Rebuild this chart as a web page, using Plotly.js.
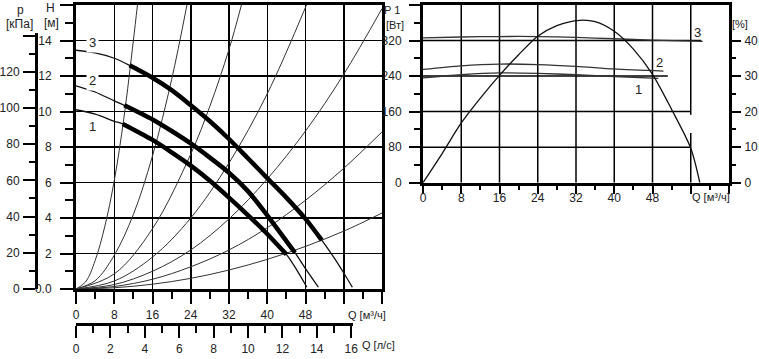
<!DOCTYPE html>
<html><head><meta charset="utf-8">
<script src="https://cdn.plot.ly/plotly-3.0.1.min.js"></script>
<style>html,body{margin:0;padding:0;background:#fff}#chart{width:759px;height:359px}</style>
</head><body><div id="chart"></div>
<script>
// ---- Left panel: pump curves H(Q) for speeds 1..3 ----
const curve1Q = [0,4,8,9.8,16,20,24,28,32,36,40,44,46,48.3];
const curve1H = [10.1,9.85,9.45,9.3,8.4,7.7,6.95,6.1,5.15,4.15,3.1,1.95,1.15,0.1];
const curve2Q = [0,4,8,10.1,16,20,24,28,32,36,40,44,45.8,48,50.7];
const curve2H = [11.45,11.1,10.6,10.35,9.55,8.9,8.2,7.4,6.55,5.5,4.15,2.7,2.05,1.15,0.1];
const curve3Q = [0,4,8,11.2,16,20,24,28,32,36,40,44,48,51.4,54,56,57.8];
const curve3H = [13.45,13.3,13.0,12.6,11.9,11.2,10.35,9.45,8.45,7.35,6.25,5.15,3.95,2.75,1.75,0.9,0.1];
const thick1 = [9.8,44];
const thick2 = [10.1,45.8];
const thick3 = [11.2,51.4];

// ---- Left panel: system curves (read points) ----
const sysA_Q = [0,2,4,6,8,10,12,12.85];
const sysA_H = [0,0.4,1.6,3.5,6.1,9.6,14.0,16];
const sysB_Q = [0,4,8,12,16,20,23.2];
const sysB_H = [0,0.47,1.9,4.2,7.5,11.8,16];
const sysC_Q = [0,8,16,24,28,32,34.6];
const sysC_H = [0,0.85,3.4,7.6,10.3,13.5,16];
const sysD_Q = [0,8,16,24,32,40,48.2];
const sysD_H = [0,0.45,1.8,4.0,7.1,11.0,16];
const sysE_Q = [0,8,16,24,32,40,48,56,64];
const sysE_H = [0,0.25,1.0,2.2,3.95,6.2,8.9,12.1,15.8];
const sysF_Q = [0,8,16,24,32,40,48,56,64];
const sysF_H = [0,0.14,0.55,1.25,2.2,3.45,5.0,6.8,8.85];
const sysG_Q = [0,8,16,24,32,40,48,56,64];
const sysG_H = [0,0.07,0.27,0.6,1.07,1.67,2.4,3.26,4.28];

// ---- Right panel: P1 power [W] and efficiency [%] ----
const p1Q = [0,8,16,24,32,40,49.2];
const p1W = [236,243,247,246,243,239,235];
const p2Q = [0,8,16,24,32,40,50.3];
const p2W = [255,263,267,266,262,256,251];
const p3Q = [0,8,16,24,32,40,48,58.5];
const p3W = [326,328,329,329,327,324,321,318];
const effQ = [0,4,8,12,16,20,24,28,32.8,36,40,44,48,52,56,57.9];
const effP = [0,8.2,16.8,23.8,30.2,36.0,41.2,44.2,45.7,45.3,42.6,37.6,30.5,20.6,9.7,0];

// ---- Tick labels ----
const qTickVals = [0,8,16,24,32,40,48,56,64];
const qTickText = ['0','8','16','24','32','40','48','',''];
const hTickVals = [0,2,4,6,8,10,12,14,16];
const hTickText = ['0.0','2','4','6','8','10','12','14',''];
const pTickVals = [0,20,40,60,80,100,120,140];
const pTickText = ['0','20','40','60','80','100','120',''];
const lsTickVals = [0,2,4,6,8,10,12,14,16];
const lsTickText = ['0','2','4','6','8','10','12','14','16'];
const wTickVals = [0,80,160,240,320,400];
const wTickText = ['0','80','160','240','320',''];
const effTickVals = [0,10,20,30,40];
const effTickText = ['0','10','20','30','40'];

const FONT = 'Liberation Sans, Arial, sans-serif';
const TXT = '#222';
const W = 759, TOP = 5, BOT = 324, PH = BOT - TOP;
const fx = X => X / W;
const fy = Y => (BOT - Y) / PH;

function seg(q, h, range) {
  const xs = [], ys = [];
  for (let i = 0; i < q.length; i++) if (q[i] >= range[0] - 1e-9 && q[i] <= range[1] + 1e-9) { xs.push(q[i]); ys.push(h[i]); }
  return {xs, ys};
}

const traces = [];
[[sysA_Q,sysA_H],[sysB_Q,sysB_H],[sysC_Q,sysC_H],[sysD_Q,sysD_H],[sysE_Q,sysE_H],[sysF_Q,sysF_H],[sysG_Q,sysG_H]].forEach(([q,h]) => {
  traces.push({x:q, y:h, xaxis:'x', yaxis:'y', mode:'lines', line:{color:'#333', width:1, shape:'spline', smoothing:1}, hoverinfo:'skip', showlegend:false});
});
[[curve1Q,curve1H,thick1],[curve2Q,curve2H,thick2],[curve3Q,curve3H,thick3]].forEach(([q,h,t]) => {
  traces.push({x:q, y:h, xaxis:'x', yaxis:'y', mode:'lines', line:{color:'#111', width:1.3, shape:'spline', smoothing:0.8}, hoverinfo:'skip', showlegend:false});
  const s = seg(q,h,t);
  traces.push({x:s.xs, y:s.ys, xaxis:'x', yaxis:'y', mode:'lines', line:{color:'#000', width:4.5, shape:'spline', smoothing:0.8}, hoverinfo:'skip', showlegend:false});
});
// dummy trace so the kPa and l/s axes are drawn
traces.push({x:[null], y:[null], xaxis:'x2', yaxis:'y2', mode:'lines', hoverinfo:'skip', showlegend:false});
// right panel
[[p1Q,p1W],[p2Q,p2W],[p3Q,p3W]].forEach(([q,w]) => {
  traces.push({x:q, y:w, xaxis:'x3', yaxis:'y3', mode:'lines', line:{color:'#333', width:1.3, shape:'spline', smoothing:0.8}, hoverinfo:'skip', showlegend:false});
});
traces.push({x:effQ, y:effP, xaxis:'x3', yaxis:'y4', mode:'lines', line:{color:'#111', width:1.3, shape:'spline', smoothing:0.8}, hoverinfo:'skip', showlegend:false});

const tickFont = {family:FONT, size:12, color:TXT};
const base = {fixedrange:true, zeroline:false, showline:true, linecolor:'#000', ticks:'outside', tickcolor:'#000', tickfont:tickFont, tickmode:'array'};

const odd = (a,b,s) => { const r=[]; for (let v=a; v<=b+1e-9; v+=s) r.push(v); return r; };

// right-panel grid shapes
const shapes = [];
const vGrid = [8,16,24,32,40,48];
vGrid.forEach(q => shapes.push({type:'line', xref:'x3', yref:'y3', x0:q, x1:q, y0:0, y1:400, line:{color:'#000', width:1.5}, layer:'below'}));
shapes.push({type:'line', xref:'x3', yref:'y3', x0:56, x1:56, y0:153, y1:400, line:{color:'#000', width:1.5}, layer:'below'});
shapes.push({type:'line', xref:'x3', yref:'y3', x0:56, x1:56, y0:0, y1:112, line:{color:'#000', width:1.5}, layer:'below'});
const hGrid = [[80,56],[160,56],[240,51.2],[320,58.2]];
hGrid.forEach(([w,qe]) => shapes.push({type:'line', xref:'x3', yref:'y3', x0:0, x1:qe, y0:w, y1:w, line:{color:'#000', width:1.5}, layer:'below'}));

const ann = (text, X, Y, size, extra) => Object.assign({text, x:fx(X), y:fy(Y), xref:'paper', yref:'paper', showarrow:false, xanchor:'center', yanchor:'middle', font:{family:FONT, size:size||12, color:TXT}}, extra||{});
const annotations = [
  ann('p', 20, 10), ann('[кПа]', 19, 24),
  ann('H', 50, 8), ann('[м]', 51, 23),
  ann('3', 92, 43, 13, {bgcolor:'#fff', borderpad:2}),
  ann('2', 92, 80, 13, {bgcolor:'#fff', borderpad:2}),
  ann('1', 92, 126, 13),
  ann('Q [м³/ч]', 367, 315, 11), ann('Q [л/с]', 378, 345, 11),
  ann('P 1', 392, 10, 11), ann('[Вт]', 395, 25, 11),
  ann('[%]', 740, 24, 11),
  ann('Q [м³/ч]', 711, 197, 11),
  ann('3', 697, 32, 13), ann('2', 659, 62, 13), ann('1', 638, 90, 13)
];

const layout = {
  width:759, height:359,
  margin:{l:0, r:0, t:TOP, b:359-BOT, pad:0},
  paper_bgcolor:'#fff', plot_bgcolor:'rgba(0,0,0,0)',
  showlegend:false,
  xaxis: Object.assign({}, base, {domain:[fx(76), fx(382)], range:[0,64], anchor:'y', mirror:true, linewidth:3,
    tickvals:qTickVals, ticktext:qTickText, ticklen:12, tickwidth:2, ticklabelstandoff:1,
    showgrid:true, gridcolor:'#000', gridwidth:1.5,
    minor:{tickmode:'array', tickvals:odd(4,60,8), ticks:'outside', ticklen:7, tickwidth:2, tickcolor:'#000', showgrid:false}}),
  yaxis: Object.assign({}, base, {domain:[fy(289), 1], range:[0,16], anchor:'x', mirror:true, linewidth:3,
    tickvals:hTickVals, ticktext:hTickText, ticklen:13, tickwidth:2, ticklabelstandoff:6,
    showgrid:true, gridcolor:'#000', gridwidth:1.5,
    minor:{tickmode:'array', tickvals:odd(1,15,2), ticks:'outside', ticklen:8, tickwidth:2, tickcolor:'#000', showgrid:false}}),
  xaxis2: Object.assign({}, base, {domain:[fx(76), fx(353)], range:[0,16.1], anchor:'free', position:0, side:'bottom', linewidth:3,
    tickvals:lsTickVals, ticktext:lsTickText, ticklen:12, tickwidth:2, ticklabelstandoff:1, showgrid:false,
    minor:{tickmode:'array', tickvals:odd(1,15,2), ticks:'outside', ticklen:7, tickwidth:2, tickcolor:'#000', showgrid:false}}),
  yaxis2: Object.assign({}, base, {domain:[fy(289), fy(33)], range:[0,141.4], anchor:'free', position:fx(36), side:'left', linewidth:3,
    tickvals:pTickVals, ticktext:pTickText, ticklen:12, tickwidth:2, ticklabelstandoff:1, showgrid:false,
    minor:{tickmode:'array', tickvals:odd(10,130,20), ticks:'outside', ticklen:6, tickwidth:2, tickcolor:'#000', showgrid:false}}),
  xaxis3: Object.assign({}, base, {domain:[fx(423), fx(729)], range:[0,64], anchor:'y3', mirror:true, linewidth:3,
    tickvals:qTickVals, ticktext:qTickText, ticklen:8, tickwidth:2, ticklabelstandoff:-6, showgrid:false,
    minor:{tickmode:'array', tickvals:odd(4,60,8), ticks:'outside', ticklen:4, tickwidth:2, tickcolor:'#000', showgrid:false}}),
  yaxis3: Object.assign({}, base, {domain:[fy(182.7), 1], range:[0,400], anchor:'x3', mirror:true, linewidth:3,
    tickvals:wTickVals, ticktext:wTickText, ticklen:11, tickwidth:2, ticklabelstandoff:5, showgrid:false,
    minor:{tickmode:'array', tickvals:odd(40,360,80), ticks:'outside', ticklen:6, tickwidth:2, tickcolor:'#000', showgrid:false}}),
  yaxis4: Object.assign({}, base, {overlaying:'y3', side:'right', anchor:'x3', range:[0,50], showline:false,
    tickvals:effTickVals, ticktext:effTickText, ticklen:11, tickwidth:2, ticklabelstandoff:1, showgrid:false,
    minor:{tickmode:'array', tickvals:odd(5,35,10), ticks:'outside', ticklen:6, tickwidth:2, tickcolor:'#000', showgrid:false}}),
  shapes, annotations
};

Plotly.newPlot('chart', traces, layout, {staticPlot:true, displayModeBar:false});
</script></body></html>
